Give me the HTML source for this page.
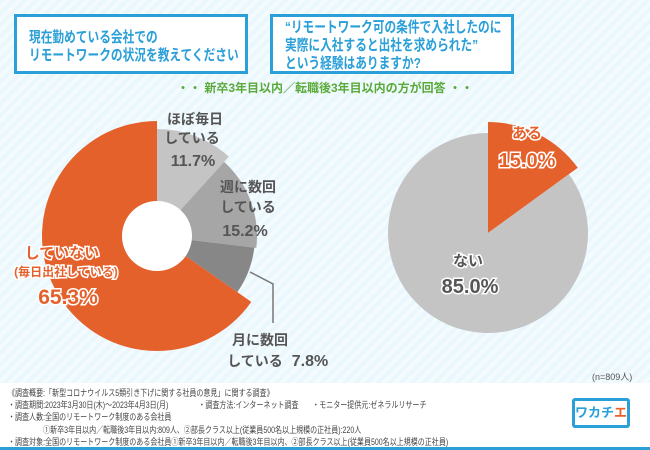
<!DOCTYPE html>
<html><head><meta charset="utf-8"><style>
body{margin:0;width:650px;height:450px;overflow:hidden;font-family:"Liberation Sans","Noto Sans CJK JP",sans-serif;}
#root{position:relative;width:650px;height:450px;background:repeating-linear-gradient(135deg,#eaf7fc 0 4px,#f3fbfe 4px 8px);}
.q{position:absolute;background:#fff;border:3px solid #2a9fd8;color:#2a9fd8;font-weight:bold;box-sizing:border-box;}
.q div{font-size:15px;line-height:18px;transform:scaleX(0.78);transform-origin:left top;white-space:nowrap;}
.foot{position:absolute;left:0;top:383px;width:650px;height:64px;background:#fff;color:#444;}
.ft{position:absolute;left:8px;top:4px;font-size:9px;line-height:12.2px;transform:scaleX(0.78);transform-origin:left top;white-space:nowrap;}
</style></head><body>
<div id="root">
<div class="q" style="left:14px;top:14px;width:234px;height:60px;padding:12px 0 0 12px;"><div>現在勤めている会社での<br>リモートワークの状況を教えてください</div></div>
<div class="q" style="left:270px;top:14px;width:244px;height:60px;padding:2px 0 0 12px;"><div>“リモートワーク可の条件で入社したのに<br>実際に入社すると出社を求められた”<br>という経験はありますか?</div></div>
<div style="position:absolute;left:130px;top:79px;width:390px;text-align:center;color:#5aaa3a;font-size:12px;font-weight:bold;">・・ 新卒3年目以内／転職後3年目以内の方が回答 ・・</div>
<svg id="svg" width="650" height="450" style="position:absolute;left:0;top:0"></svg>
<div style="position:absolute;left:592px;top:370px;font-size:9px;color:#555;">(n=809人)</div>
<div class="foot">
<div class="ft">《調査概要:「新型コロナウイルス5類引き下げに関する社員の意見」に関する調査》<br>・調査期間:2023年3月30日(木)～2023年4月3日(月)<span style="position:absolute;left:244px;">・調査方法:インターネット調査</span><span style="position:absolute;left:390px;">・モニター提供元:ゼネラルリサーチ</span><br>・調査人数:全国のリモートワーク制度のある会社員<br><span style="padding-left:45px">①新卒3年目以内／転職後3年目以内:809人、②部長クラス以上(従業員500名以上規模の正社員):220人</span><br>・調査対象:全国のリモートワーク制度のある会社員①新卒3年目以内／転職後3年目以内、②部長クラス以上(従業員500名以上規模の正社員)</div>
<div style="position:absolute;left:572px;top:15px;width:58px;height:30px;border:3px solid #2a9fd8;border-radius:3px;box-sizing:border-box;color:#2a9fd8;font-weight:bold;font-size:13px;text-align:center;line-height:24px;white-space:nowrap;">ワカチ<span style="color:#e8602c">エ</span></div>
</div>
<div style="position:absolute;left:0;top:447px;width:650px;height:3px;background:#2a9fd8;"></div>
</div>
<script>
const leftLabels=["ほぼ毎日している","週に数回している","月に数回している","していない"];
const leftValues=[11.7,15.2,7.8,65.3];
const rightLabels=["ある","ない"];
const rightValues=[15.0,85.0];
const NS="http://www.w3.org/2000/svg";
const svg=document.getElementById('svg');
function pt(cx,cy,r,f){const a=f*2*Math.PI;return [cx+r*Math.sin(a),cy-r*Math.cos(a)];}
function slice(cx,cy,r,f0,f1,col,name){
  const p0=pt(cx,cy,r,f0),p1=pt(cx,cy,r,f1);const big=(f1-f0)>0.5?1:0;
  const p=document.createElementNS(NS,'path');
  p.setAttribute('d',`M${cx},${cy}L${p0[0]},${p0[1]}A${r},${r} 0 ${big} 1 ${p1[0]},${p1[1]}Z`);
  p.setAttribute('fill',col);
  
  
  svg.appendChild(p);
}
function txt(x,y,s,size,col,name,stroke){
  const t=document.createElementNS(NS,'text');
  t.setAttribute('x',x);t.setAttribute('y',y);t.setAttribute('font-size',size);t.setAttribute('fill',col);
  t.setAttribute('font-weight','bold');t.setAttribute('text-anchor','middle');
  if(stroke){t.setAttribute('stroke','#fff');t.setAttribute('stroke-width','3');t.setAttribute('paint-order','stroke');}
  t.textContent=s;
  
  
  svg.appendChild(t);
}
const lc=[157,236];const lcol=["#c4c4c4","#a6a6a6","#878787","#e5612c"];const lr=[107,100,98,115];
let acc=0;const tot=leftValues.reduce((a,b)=>a+b,0);
leftValues.forEach((v,i)=>{const f0=acc/tot,f1=(acc+v)/tot;slice(lc[0],lc[1],lr[i],f0,f1,lcol[i],'left-slice-'+i);acc+=v;});
const hole=document.createElementNS(NS,'circle');hole.setAttribute('cx',lc[0]);hole.setAttribute('cy',lc[1]);hole.setAttribute('r',35);hole.setAttribute('fill','#fff');


svg.appendChild(hole);
const ln=document.createElementNS(NS,'polyline');ln.setAttribute('points','250,272 273,284 273,323');ln.setAttribute('fill','none');ln.setAttribute('stroke','#777');ln.setAttribute('stroke-width','1.5');


svg.appendChild(ln);
txt(195,124,"ほぼ毎日",14,"#555","label-daily");txt(192,143,"している",14,"#555","label-daily-2");txt(193,166,leftValues[0].toFixed(1)+"%",16,"#555","value-daily");
txt(248,192,"週に数回",14,"#555","label-weekly");txt(248,212,"している",14,"#555","label-weekly-2");txt(245,236,leftValues[1].toFixed(1)+"%",16,"#555","value-weekly");
txt(260,345,"月に数回",14,"#555","label-monthly");txt(255,366,"している",14,"#555","label-monthly-2");txt(310,366,leftValues[2].toFixed(1)+"%",16,"#555","value-monthly");
txt(62,258,"していない",15,"#e5612c","label-none",true);txt(66,276,"(毎日出社している)",12,"#e5612c","label-none-2",true);txt(68,304,leftValues[3].toFixed(1)+"%",21,"#e5612c","value-none",true);
const rc=[488,233];const rcol=["#e5612c","#c4c4c4"];const rr=[111,100];
acc=0;const rt=rightValues.reduce((a,b)=>a+b,0);
rightValues.forEach((v,i)=>{slice(rc[0],rc[1],rr[i],acc/rt,(acc+v)/rt,rcol[i],'right-slice-'+i);acc+=v;});
txt(527,138,rightLabels[0],15,"#e5612c","label-yes",true);txt(527,167,rightValues[0].toFixed(1)+"%",20,"#e5612c","value-yes",true);
txt(468,266,rightLabels[1],15,"#555","label-no",true);txt(470,293,rightValues[1].toFixed(1)+"%",20,"#555","value-no",true);
</script>
</body></html>
